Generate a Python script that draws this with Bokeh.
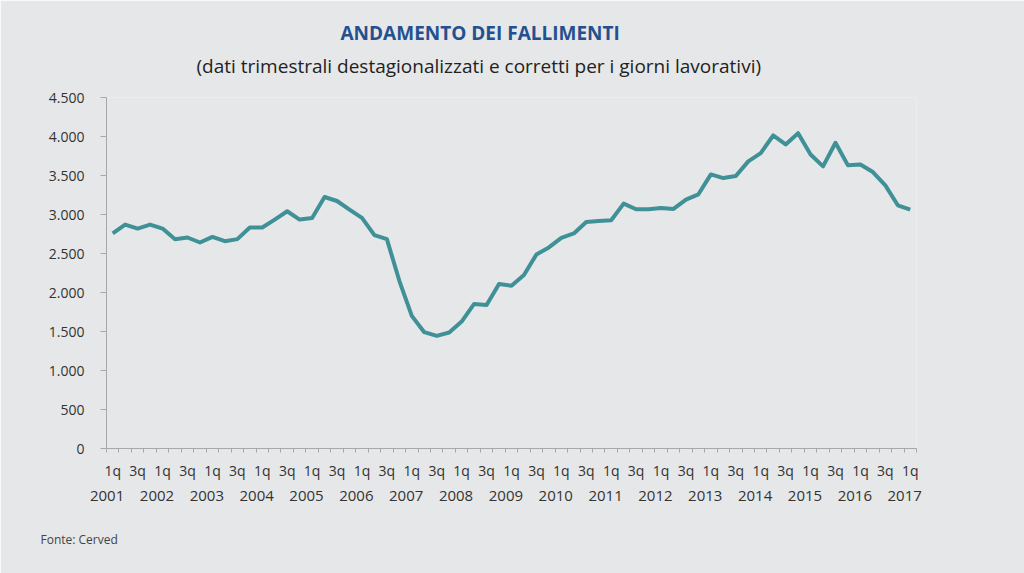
from bokeh.plotting import figure
from bokeh.models import FixedTicker, Range1d, ColumnDataSource, LinearAxis, Title
from bokeh.embed import file_html
from bokeh.resources import INLINE

# ---- data ----
years = [str(y) for y in range(2001, 2018)]
quarter_labels = ["1q", "3q"]
fallimenti = [
    2757, 2871, 2820, 2871, 2820, 2684, 2705, 2641, 2713, 2658,
    2684, 2833, 2833, 2935, 3042, 2935, 2956, 3224, 3173, 3063,
    2956, 2735, 2684, 2150, 1700, 1491, 1444, 1487, 1627, 1853,
    1840, 2109, 2087, 2224, 2488, 2578, 2700, 2757, 2905, 2918,
    2927, 3140, 3067, 3067, 3084, 3071, 3191, 3259, 3514, 3467,
    3493, 3681, 3787, 4013, 3898, 4042, 3770, 3617, 3920, 3630,
    3642, 3544, 3374, 3118, 3063,
]
y_ticks = [0, 500, 1000, 1500, 2000, 2500, 3000, 3500, 4000, 4500]
title_text = "ANDAMENTO DEI FALLIMENTI"
subtitle_text = "(dati trimestrali destagionalizzati e corretti per i giorni lavorativi)"
source_text = "Fonte: Cerved"

BG = "#e6e7e8"
LINE = "#3f9197"
TXT = "#333333"
AX = "#a8a8a8"
FONT = "Open Sans"

n = len(fallimenti)
idx = list(range(n))

p = figure(width=1024, height=573, output_backend="svg", toolbar_location=None,
           x_range=Range1d(-0.5, n - 0.5), y_range=Range1d(0, 4500),
           min_border_left=106, min_border_right=108, min_border_top=97,
           min_border_bottom=124)
p.background_fill_color = BG
p.border_fill_color = BG
p.outline_line_color = None
p.xgrid.visible = False
p.ygrid.visible = False

src = ColumnDataSource(dict(x=idx, y=fallimenti))
p.line("x", "y", source=src, line_color=LINE, line_width=4, line_join="round")

# y axis
ya = p.yaxis[0]
ya.ticker = FixedTicker(ticks=y_ticks, minor_ticks=[])
ya.major_label_overrides = {t: f"{t:,}".replace(",", ".") for t in y_ticks}
ya.axis_line_color = AX
ya.major_tick_line_color = AX
ya.major_tick_out = 6
ya.major_tick_in = 0
ya.minor_tick_line_color = None
ya.major_label_text_font = FONT
ya.major_label_text_font_size = "14px"
ya.major_label_text_color = TXT
ya.major_label_standoff = 16

# x axis: quarters
xa = p.xaxis[0]
major = list(range(0, n, 2))
xa.ticker = FixedTicker(ticks=major, minor_ticks=[i - 0.5 for i in range(n + 1)])
xa.major_label_overrides = {i: quarter_labels[(i // 2) % 2] for i in major}
xa.axis_line_color = AX
xa.major_tick_line_color = None
xa.major_tick_out = 0
xa.major_tick_in = 0
xa.minor_tick_line_color = AX
xa.minor_tick_out = 4
xa.minor_tick_in = 0
xa.major_label_text_font = FONT
xa.major_label_text_font_size = "14px"
xa.major_label_text_color = TXT
xa.major_label_standoff = 8

# second x axis: years, slightly left of each 1q label
year_pos = [4 * k - 0.45 for k in range(len(years))]
xa2 = LinearAxis(ticker=FixedTicker(ticks=year_pos, minor_ticks=[]),
                 major_label_overrides={pos: yr for pos, yr in zip(year_pos, years)},
                 axis_line_color=None, major_tick_line_color=None,
                 minor_tick_line_color=None, major_tick_out=0, major_tick_in=0,
                 minor_tick_out=0, minor_tick_in=0,
                 major_label_text_font=FONT, major_label_text_font_size="15px",
                 major_label_text_color=TXT, major_label_standoff=8)
p.add_layout(xa2, "below")

# source note
p.add_layout(Title(text=source_text, align="left", offset=-66, standoff=51,
                   text_font=FONT, text_font_size="12px", text_font_style="normal",
                   text_color="#444444"), "below")

# titles
p.add_layout(Title(text=subtitle_text, align="left", offset=90, standoff=38,
                   text_font=FONT, text_font_size="19px", text_font_style="normal",
                   text_color="#222222"), "above")
p.add_layout(Title(text=title_text, align="left", offset=234, standoff=-28,
                   text_font=FONT, text_font_size="19px", text_font_style="bold",
                   text_color="#24508f"), "above")

open("out.html", "w").write(file_html(p, INLINE))
